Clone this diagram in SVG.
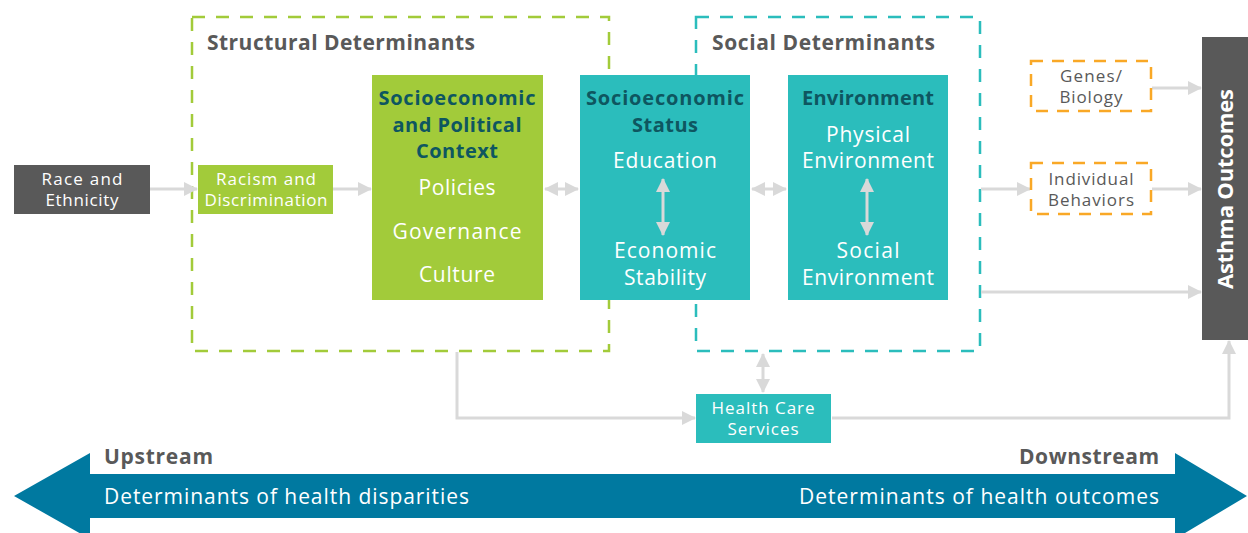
<svg xmlns="http://www.w3.org/2000/svg" width="1248" height="533" viewBox="0 0 1248 533">
<style>
.t{font-family:"Open Sans",Lato,"Liberation Sans",sans-serif}
.hdr{font-size:21px;font-weight:700;fill:#595959}
.ttl{font-size:20px;font-weight:700;fill:#0e5660;text-anchor:middle}
.itm{font-size:21px;fill:#ffffff;text-anchor:middle}
.sm{font-size:17px;fill:#ffffff;text-anchor:middle}
.smg{font-size:17px;fill:#595959;text-anchor:middle}
.con{fill:none;stroke:#d9d9d9;stroke-width:3}
.dashg{fill:none;stroke:#a2cb3a;stroke-width:2.5;stroke-dasharray:13 11}
.dasht{fill:none;stroke:#2bbdbc;stroke-width:2.5;stroke-dasharray:13 11}
.dasho{fill:none;stroke:#f9a826;stroke-width:2.5;stroke-dasharray:12 9}
</style>
<defs>
<marker id="ah" viewBox="0 0 14 14" refX="13" refY="7" markerWidth="14" markerHeight="14" markerUnits="userSpaceOnUse" orient="auto-start-reverse">
<path d="M0,0 L14,7 L0,14 z" fill="#d9d9d9"/>
</marker>
</defs>
<rect width="1248" height="533" fill="#ffffff"/>

<g id="structural-determinants">
<rect x="192" y="17" width="417" height="334" class="dashg"/>
<text x="207" y="50" class="t hdr" textLength="268">Structural Determinants</text>
</g>
<g id="social-determinants">
<rect x="696" y="17" width="284" height="334" class="dasht"/>
<text x="712" y="50" class="t hdr" textLength="223">Social Determinants</text>
</g>

<g id="connectors">
<line x1="150" y1="189" x2="197" y2="189" class="con" marker-end="url(#ah)"/>
<line x1="333" y1="189" x2="371" y2="189" class="con" marker-end="url(#ah)"/>
<line x1="545" y1="189" x2="578" y2="189" class="con" marker-start="url(#ah)" marker-end="url(#ah)"/>
<line x1="752" y1="189" x2="786" y2="189" class="con" marker-start="url(#ah)" marker-end="url(#ah)"/>
<line x1="981" y1="189" x2="1030" y2="189" class="con" marker-end="url(#ah)"/>
<line x1="1152" y1="88" x2="1201" y2="88" class="con" marker-end="url(#ah)"/>
<line x1="1152" y1="189" x2="1201" y2="189" class="con" marker-end="url(#ah)"/>
<line x1="981" y1="292" x2="1201" y2="292" class="con" marker-end="url(#ah)"/>
<polyline points="457,352 457,418 695,418" class="con" marker-end="url(#ah)"/>
<line x1="763" y1="354" x2="763" y2="392" class="con" marker-start="url(#ah)" marker-end="url(#ah)"/>
<polyline points="832,418 1229,418 1229,341" class="con" marker-end="url(#ah)"/>
</g>

<g id="race-ethnicity">
<rect x="14" y="165" width="136" height="49" fill="#595959"/>
<text class="t sm"><tspan x="82" y="185" textLength="81">Race and</tspan><tspan x="82" y="206" textLength="73">Ethnicity</tspan></text>
</g>
<g id="racism-discrimination">
<rect x="198" y="165" width="135" height="49" fill="#a2cb3a"/>
<text class="t sm"><tspan x="266" y="185" textLength="100">Racism and</tspan><tspan x="266" y="206" textLength="123">Discrimination</tspan></text>
</g>
<g id="socioeconomic-political-context">
<rect x="372" y="75" width="171" height="225" fill="#a2cb3a"/>
<text x="457" y="105" class="t ttl" textLength="157">Socioeconomic</text>
<text x="457" y="132" class="t ttl" textLength="129">and Political</text>
<text x="457" y="158" class="t ttl" textLength="82">Context</text>
<text x="457" y="195" class="t itm" textLength="77">Policies</text>
<text x="457" y="239" class="t itm" textLength="129">Governance</text>
<text x="457" y="282" class="t itm" textLength="76">Culture</text>
</g>
<g id="socioeconomic-status">
<rect x="580" y="75" width="170" height="225" fill="#2bbdbc"/>
<text x="665" y="105" class="t ttl" textLength="158">Socioeconomic</text>
<text x="665" y="132" class="t ttl" textLength="66">Status</text>
<text x="665" y="168" class="t itm" textLength="104">Education</text>
<text x="665" y="258" class="t itm" textLength="102">Economic</text>
<text x="665" y="285" class="t itm" textLength="82">Stability</text>
</g>
<g id="environment">
<rect x="788" y="75" width="160" height="225" fill="#2bbdbc"/>
<text x="868" y="105" class="t ttl" textLength="132">Environment</text>
<text x="868" y="142" class="t itm" textLength="84">Physical</text>
<text x="868" y="168" class="t itm" textLength="132">Environment</text>
<text x="868" y="258" class="t itm" textLength="63">Social</text>
<text x="868" y="285" class="t itm" textLength="132">Environment</text>
</g>
<g id="connectors-inner">
<line x1="663" y1="179" x2="663" y2="235" class="con" marker-start="url(#ah)" marker-end="url(#ah)"/>
<line x1="867" y1="179" x2="867" y2="235" class="con" marker-start="url(#ah)" marker-end="url(#ah)"/>
</g>
<g id="genes-biology">
<rect x="1031" y="61" width="120" height="50" class="dasho"/>
<text class="t smg"><tspan x="1091" y="82" textLength="62">Genes/</tspan><tspan x="1091" y="103" textLength="63">Biology</tspan></text>
</g>
<g id="individual-behaviors">
<rect x="1031" y="163" width="120" height="51" class="dasho"/>
<text class="t smg"><tspan x="1091" y="185" textLength="85">Individual</tspan><tspan x="1091" y="206" textLength="86">Behaviors</tspan></text>
</g>
<g id="asthma-outcomes">
<rect x="1202" y="37" width="46" height="303" fill="#595959"/>
<text transform="translate(1233,189) rotate(-90)" x="0" y="0" text-anchor="middle" class="t" font-size="22" font-weight="700" fill="#ffffff" textLength="200">Asthma Outcomes</text>
</g>
<g id="health-care-services">
<rect x="696" y="394" width="135" height="49" fill="#2bbdbc"/>
<text class="t sm"><tspan x="763" y="414" textLength="103">Health Care</tspan><tspan x="763" y="435" textLength="71">Services</tspan></text>
</g>

<g id="upstream-downstream">
<polygon points="14,496 90,453 90,474 1175,474 1175,453 1247,496 1175,539 1175,518 90,518 90,539" fill="#0079a0"/>
<text x="104" y="464" class="t hdr" textLength="109">Upstream</text>
<text x="1159" y="464" class="t hdr" text-anchor="end" textLength="140">Downstream</text>
<text x="104" y="504" class="t" font-size="21" fill="#ffffff" textLength="365">Determinants of health disparities</text>
<text x="1159" y="504" class="t" font-size="21" fill="#ffffff" text-anchor="end" textLength="360">Determinants of health outcomes</text>
</g>
</svg>
